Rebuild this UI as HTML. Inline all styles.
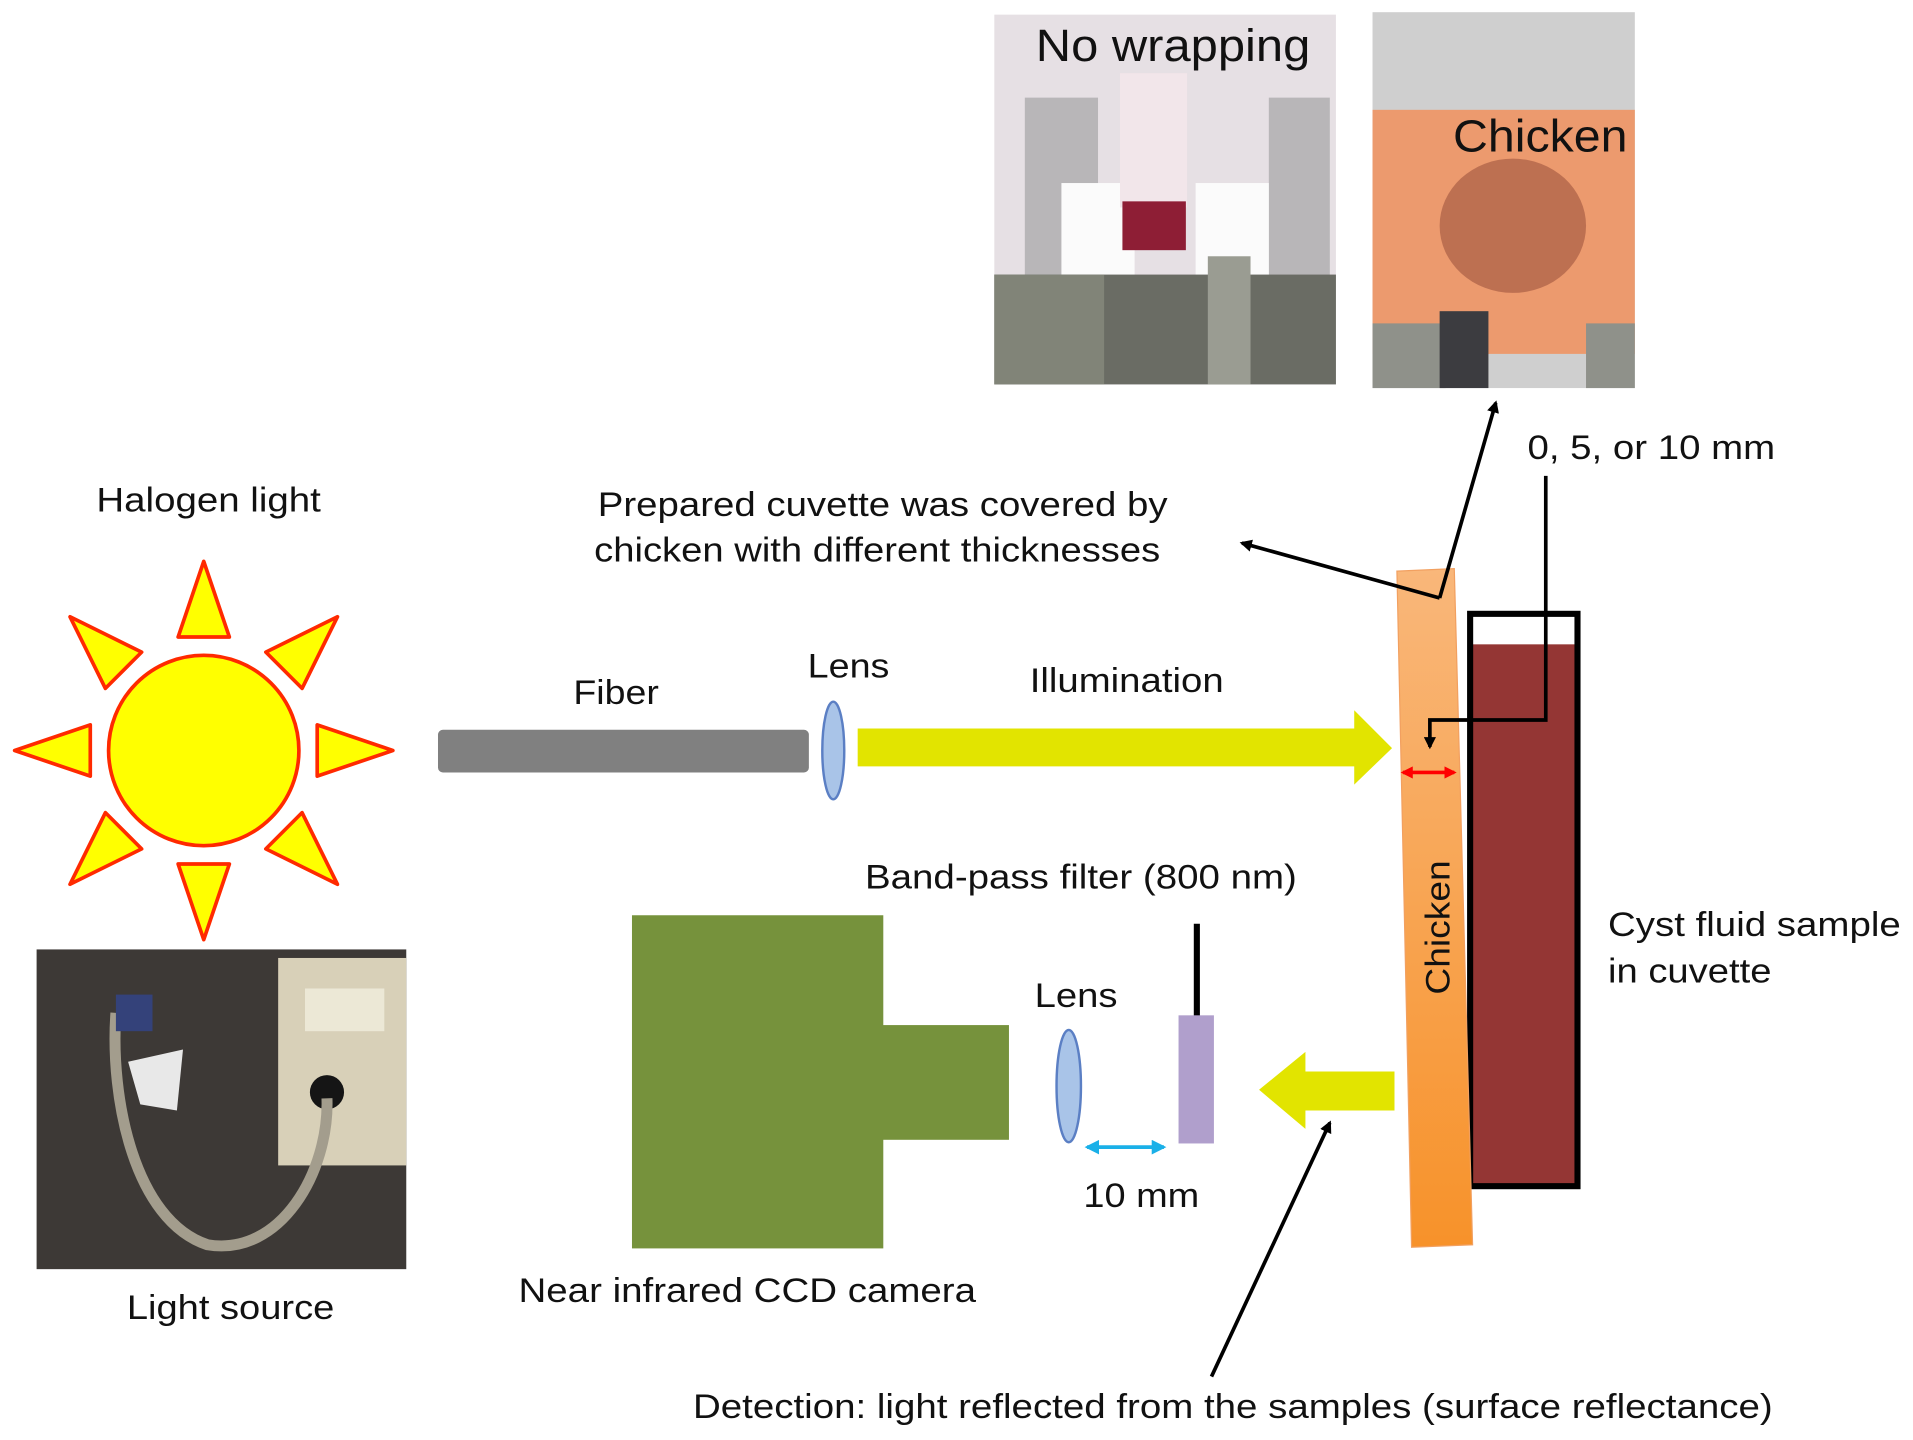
<!DOCTYPE html>
<html><head><meta charset="utf-8"><style>
html,body{margin:0;padding:0;background:#fff;}
svg{display:block;}
text{font-family:"Liberation Sans",Arial,sans-serif;fill:#111;}
</style></head><body>
<svg width="1913" height="1440" viewBox="0 0 1568 1180" preserveAspectRatio="none" xmlns="http://www.w3.org/2000/svg">
<defs>
<linearGradient id="ch" x1="0" y1="0" x2="0" y2="1"><stop offset="0" stop-color="#f9b77a"/><stop offset="1" stop-color="#f7922a"/></linearGradient>
<marker id="ab" markerWidth="10" markerHeight="10" refX="8" refY="5" orient="auto" markerUnits="userSpaceOnUse"><path d="M0,0 L10,5 L0,10 z" fill="#000"/></marker>
<marker id="ar" markerWidth="10" markerHeight="10" refX="8" refY="5" orient="auto-start-reverse" markerUnits="userSpaceOnUse"><path d="M0,0 L10,5 L0,10 z" fill="#ff0000"/></marker>
<marker id="ac" markerWidth="12" markerHeight="12" refX="10" refY="6" orient="auto-start-reverse" markerUnits="userSpaceOnUse"><path d="M0,0 L12,6 L0,12 z" fill="#1ab0e8"/></marker>
</defs>

<!-- No wrapping photo -->
<rect x="815" y="12" width="280" height="303" fill="#e6e0e4"/>
<rect x="840" y="80" width="60" height="200" fill="#b8b6b8"/>
<rect x="1040" y="80" width="50" height="200" fill="#b8b6b8"/>
<rect x="870" y="150" width="60" height="120" fill="#fbfbfb"/>
<rect x="980" y="150" width="60" height="120" fill="#fbfbfb"/>
<rect x="918" y="60" width="55" height="110" fill="#f2e6ea"/>
<rect x="920" y="165" width="52" height="40" fill="#8e1e35"/>
<rect x="815" y="225" width="280" height="90" fill="#6a6c64"/>
<rect x="815" y="225" width="90" height="90" fill="#818478"/>
<rect x="990" y="210" width="35" height="105" fill="#9a9c92"/>

<!-- Chicken photo -->
<rect x="1125" y="10" width="215" height="308" fill="#cfcfcf"/>
<rect x="1125" y="90" width="215" height="200" fill="#ec9a6e"/>
<ellipse cx="1240" cy="185" rx="60" ry="55" fill="#b2654a" opacity="0.8"/>
<rect x="1125" y="265" width="60" height="53" fill="#8f918a"/>
<rect x="1300" y="265" width="40" height="53" fill="#8f918a"/>
<rect x="1180" y="255" width="40" height="63" fill="#3c3c40"/>

<text x="849" y="50" font-size="37" textLength="225" lengthAdjust="spacingAndGlyphs">No wrapping</text>
<text x="1191" y="124" font-size="37" textLength="143" lengthAdjust="spacingAndGlyphs">Chicken</text>
<text x="1252" y="376" font-size="28" textLength="203" lengthAdjust="spacingAndGlyphs">0, 5, or 10 mm</text>

<text x="490" y="423" font-size="28" textLength="467" lengthAdjust="spacingAndGlyphs">Prepared cuvette was covered by</text>
<text x="487" y="460" font-size="28" textLength="464" lengthAdjust="spacingAndGlyphs">chicken with different thicknesses</text>

<!-- Sun -->
<text x="79" y="419" font-size="28" textLength="184" lengthAdjust="spacingAndGlyphs">Halogen light</text>
<g fill="#ffff00" stroke="#ff2a00" stroke-width="3" stroke-linejoin="round">
<g transform="translate(167,615)">
<polygon points="-21,-93 21,-93 0,-155"/>
<polygon points="-21,-93 21,-93 0,-155" transform="rotate(45)"/>
<polygon points="-21,-93 21,-93 0,-155" transform="rotate(90)"/>
<polygon points="-21,-93 21,-93 0,-155" transform="rotate(135)"/>
<polygon points="-21,-93 21,-93 0,-155" transform="rotate(180)"/>
<polygon points="-21,-93 21,-93 0,-155" transform="rotate(225)"/>
<polygon points="-21,-93 21,-93 0,-155" transform="rotate(270)"/>
<polygon points="-21,-93 21,-93 0,-155" transform="rotate(315)"/>
<circle cx="0" cy="0" r="78"/>
</g></g>

<!-- light source photo -->
<rect x="30" y="778" width="303" height="262" fill="#3d3936"/>
<rect x="228" y="785" width="105" height="170" fill="#d8d0b8"/>
<rect x="250" y="810" width="65" height="35" fill="#ece8d6"/>
<circle cx="268" cy="895" r="14" fill="#151515"/>
<path d="M95,830 C90,900 110,1000 170,1020 C230,1030 270,960 268,900" fill="none" stroke="#a39d8d" stroke-width="9"/>
<path d="M105,870 L150,860 L145,910 L115,905 Z" fill="#e8e8e8"/>
<rect x="95" y="815" width="30" height="30" fill="#34427a"/>
<text x="104" y="1081" font-size="28" textLength="170" lengthAdjust="spacingAndGlyphs">Light source</text>

<!-- Fiber and lens -->
<text x="470" y="577" font-size="28" textLength="70" lengthAdjust="spacingAndGlyphs">Fiber</text>
<rect x="359" y="598" width="304" height="35" rx="4" fill="#808080"/>
<text x="662" y="555" font-size="28" textLength="67" lengthAdjust="spacingAndGlyphs">Lens</text>
<ellipse cx="683" cy="615" rx="9" ry="40" fill="#a9c4e8" stroke="#5b7fc4" stroke-width="2"/>

<!-- Illumination arrow -->
<text x="844" y="567" font-size="28" textLength="159" lengthAdjust="spacingAndGlyphs">Illumination</text>
<polygon points="703,597 1110,597 1110,582 1141,613 1110,643 1110,628 703,628" fill="#e2e400"/>

<!-- Cuvette -->
<rect x="1205" y="528" width="88" height="444" fill="#943634"/>
<rect x="1205" y="503" width="88" height="469" fill="none" stroke="#000" stroke-width="5"/>

<!-- Chicken bar -->
<polygon points="1145,468 1192,466 1207,1020 1157,1022" fill="url(#ch)" stroke="#f2a060" stroke-width="1"/>
<text transform="translate(1188,815) rotate(-90)" font-size="28" textLength="110" lengthAdjust="spacingAndGlyphs">Chicken</text>

<!-- thickness arrow -->
<polyline points="1267,390 1267,590 1172,590 1172,612" fill="none" stroke="#000" stroke-width="3" marker-end="url(#ab)"/>
<line x1="1150" y1="633" x2="1192" y2="633" stroke="#ff0000" stroke-width="3" marker-start="url(#ar)" marker-end="url(#ar)"/>

<!-- callout arrows -->
<line x1="1180" y1="490" x2="1226" y2="330" stroke="#000" stroke-width="3" marker-end="url(#ab)"/>
<line x1="1180" y1="490" x2="1018" y2="445" stroke="#000" stroke-width="3" marker-end="url(#ab)"/>

<text x="1318" y="767" font-size="28" textLength="240" lengthAdjust="spacingAndGlyphs">Cyst fluid sample</text>
<text x="1318" y="805" font-size="28" textLength="134" lengthAdjust="spacingAndGlyphs">in cuvette</text>

<!-- Camera -->
<rect x="518" y="750" width="206" height="273" fill="#76923c"/>
<rect x="722" y="840" width="105" height="94" fill="#76923c"/>
<text x="425" y="1067" font-size="28" textLength="375" lengthAdjust="spacingAndGlyphs">Near infrared CCD camera</text>

<text x="848" y="825" font-size="28" textLength="68" lengthAdjust="spacingAndGlyphs">Lens</text>
<ellipse cx="876" cy="890" rx="10" ry="46" fill="#a9c4e8" stroke="#5b7fc4" stroke-width="2"/>

<text x="709" y="728" font-size="28" textLength="354" lengthAdjust="spacingAndGlyphs">Band-pass filter (800 nm)</text>
<line x1="981" y1="757" x2="981" y2="833" stroke="#000" stroke-width="5"/>
<rect x="966" y="832" width="29" height="105" fill="#b09fcc"/>

<line x1="891" y1="940" x2="954" y2="940" stroke="#1ab0e8" stroke-width="3" marker-start="url(#ac)" marker-end="url(#ac)"/>
<text x="888" y="989" font-size="28" textLength="95" lengthAdjust="spacingAndGlyphs">10 mm</text>

<!-- detection arrow -->
<polygon points="1143,878 1070,878 1070,862 1032,893 1070,925 1070,910 1143,910" fill="#e2e400"/>
<line x1="993" y1="1128" x2="1090" y2="920" stroke="#000" stroke-width="3" marker-end="url(#ab)"/>
<text x="568" y="1162" font-size="28" textLength="885" lengthAdjust="spacingAndGlyphs">Detection: light reflected from the samples (surface reflectance)</text>
</svg>
</body></html>
